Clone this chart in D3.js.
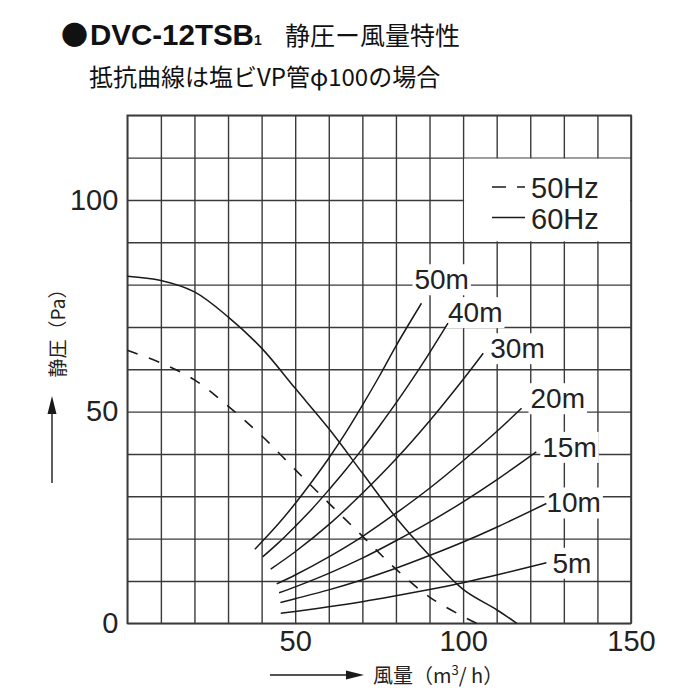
<!DOCTYPE html>
<html><head><meta charset="utf-8">
<script src="https://cdn.jsdelivr.net/npm/d3@7"></script>
<style>
html,body{margin:0;padding:0;background:#fff;}
svg{display:block;}
</style></head><body>
<svg id="chart" width="700" height="700"></svg>
<script>
// ---------- data ----------
const flowTicks = d3.range(0, 151, 10);          // 風量 m3/h grid
const flowTickLabels = [50, 100, 150];
const pressureTicks = d3.range(0, 121, 10);      // 静圧 Pa grid
const pressureTickLabels = [0, 50, 100];

const fan60Hz = [[0,82],[10,81],[20,78.3],[30,72.4],[40,65],[50,55.5],[60,46],[70,35.5],[80,25],[90,16],[100,8],[110,3.2],[116,0]];
const fan50Hz = [[0,64.5],[10,61.5],[20,57.5],[30,51.3],[40,44.3],[50,36.3],[60,28.4],[70,20.6],[80,12.8],[90,6.2],[100,1.6],[104,0]];

const ductLabels = ["50m","40m","30m","20m","15m","10m","5m"];
const duct50m = [[38,17.5],[45,23.5],[50,28.3],[55,33.5],[60,39],[65,45],[70,51.5],[75,58.3],[80,65.5],[87.6,75.6]];
const duct40m = [[40.3,15.7],[45,19],[50,22.9],[55,27],[60,31.5],[65,36.2],[70,41.2],[75,46.5],[80,52],[85,57.8],[90,63.9],[95.5,70.9]];
const duct30m = [[42.7,12.8],[50,16.9],[60,23.3],[70,30.7],[80,38.8],[90,47.8],[100,57.6],[106,63.8]];
const duct20m = [[44.5,9.3],[50,11.4],[60,15.7],[70,20.5],[80,26],[90,31.9],[100,38.4],[110,45.3],[117.4,50.8]];
const duct15m = [[45.2,7.2],[50,8.6],[60,11.8],[70,15.4],[80,19.5],[90,23.9],[100,28.7],[110,33.9],[121.8,40.5]];
const duct10m = [[45.6,4.9],[50,5.8],[60,7.9],[70,10.3],[80,13],[90,16],[100,19.2],[110,22.7],[124.8,28.3]];
const duct5m  = [[45.7,2.4],[50,2.8],[60,3.9],[70,5.1],[80,6.5],[90,8],[100,9.6],[110,11.4],[124.8,14.3]];

const legendLabels = ["50Hz", "60Hz"];
const titleModel = "DVC-12TSB";
const titleSub = "1";
const titleJa = "静圧ー風量特性";
const subtitle = "抵抗曲線は塩ビVP管φ100の場合";
const yAxisTitle = "静圧（Pa）";

// ---------- layout / style ----------
const ducts = [duct50m, duct40m, duct30m, duct20m, duct15m, duct10m, duct5m];
const labelOffsets = [[-7,-24],[0,-11],[7,-5],[9,-10],[6,-5],[0,-1],[6,0]];
const latin = "'Liberation Sans', Arial, Helvetica, sans-serif";
const cjk = "'Noto Sans CJK JP', 'Noto Sans', sans-serif";
const gridColor = "#3a3a3a";
const ink = "#1a1a1a";

const svg = d3.select("#chart");
const x = d3.scaleLinear().domain([0,150]).range([127.3, 631]);
const y = d3.scaleLinear().domain([0,120]).range([623.3, 115.3]);
const W = x(150) - x(0), H = y(0) - y(120);

// ---------- title ----------
svg.append("text").attr("x", 61).attr("y", 45).attr("font-family", cjk)
  .attr("font-size", 27).attr("fill", "#111").text("●");
const t1 = svg.append("text").attr("y", 45).attr("fill", "#111");
t1.append("tspan").attr("x", 90).attr("font-family", latin).attr("font-weight", "bold")
  .attr("font-size", 29.5).text(titleModel);
t1.append("tspan").attr("x", 254).attr("font-family", latin).attr("font-weight", "bold")
  .attr("font-size", 14).text(titleSub);
t1.append("tspan").attr("x", 285).attr("font-family", cjk).attr("font-size", 25).text(titleJa);

svg.append("text").attr("x", 89).attr("y", 86).attr("font-family", cjk)
  .attr("font-size", 24).attr("fill", "#111").text(subtitle);

// ---------- grid via axes ----------
const gx = svg.append("g").attr("transform", `translate(0,${y(0)})`)
  .call(d3.axisBottom(x).tickValues(flowTicks).tickSize(-H).tickPadding(7)
    .tickFormat(d => flowTickLabels.includes(d) ? d : ""));
const gy = svg.append("g").attr("transform", `translate(${x(0)},0)`)
  .call(d3.axisLeft(y).tickValues(pressureTicks).tickSize(-W).tickPadding(9)
    .tickFormat(d => pressureTickLabels.includes(d) ? d : ""));
[gx, gy].forEach(g => {
  g.select(".domain").remove();
  g.attr("font-family", latin).attr("font-size", 29);
  g.selectAll(".tick line").attr("stroke", gridColor).attr("stroke-width", 1.4);
  g.selectAll(".tick text").attr("fill", "#222");
});
svg.append("rect").attr("x", x(0)).attr("y", y(120)).attr("width", W).attr("height", H)
  .attr("fill", "none").attr("stroke", gridColor).attr("stroke-width", 1.6);

// legend white box (inside one grid block)
svg.append("rect").attr("x", x(100) + 1).attr("y", y(110) + 1)
  .attr("width", x(150) - x(100) - 2).attr("height", y(90) - y(110) - 2).attr("fill", "#fff");

// ---------- duct labels (white boxes under, text over) ----------
const rectLayer = svg.append("g");
const curveLayer = svg.append("g");
const textLayer = svg.append("g");

const line = d3.line().x(d => x(d[0])).y(d => y(d[1])).curve(d3.curveCatmullRom.alpha(0.5));

ducts.forEach((pts, i) => {
  const end = pts[pts.length - 1];
  const lx = x(end[0]) + labelOffsets[i][0];
  const ly = y(end[1]) + labelOffsets[i][1];
  const t = textLayer.append("text").attr("x", lx).attr("y", ly + 10)
    .attr("font-family", latin).attr("font-size", 28).attr("fill", "#222").text(ductLabels[i]);
  const bb = t.node().getBBox();
  rectLayer.append("rect").attr("x", bb.x - 2).attr("y", ly - 15)
    .attr("width", bb.width + 4).attr("height", 31).attr("fill", "#fff");
  curveLayer.append("path").attr("d", line(pts)).attr("fill", "none")
    .attr("stroke", ink).attr("stroke-width", 1.5);
});

curveLayer.append("path").attr("d", line(fan60Hz)).attr("fill", "none")
  .attr("stroke", ink).attr("stroke-width", 1.5);
curveLayer.append("path").attr("d", line(fan50Hz)).attr("fill", "none")
  .attr("stroke", ink).attr("stroke-width", 1.6).attr("stroke-dasharray", "11,12");

// ---------- legend ----------
const lg = svg.append("g");
lg.append("line").attr("x1", 492).attr("x2", 525).attr("y1", 187).attr("y2", 187)
  .attr("stroke", ink).attr("stroke-width", 1.6).attr("stroke-dasharray", "14,11");
lg.append("line").attr("x1", 492).attr("x2", 525).attr("y1", 217.5).attr("y2", 217.5)
  .attr("stroke", ink).attr("stroke-width", 1.5);
legendLabels.forEach((s, i) => {
  lg.append("text").attr("x", 531).attr("y", 198 + i * 31).attr("font-family", latin)
    .attr("font-size", 29).attr("fill", "#222").text(s);
});

// ---------- axis titles with arrows ----------
svg.append("line").attr("x1", 52).attr("x2", 52).attr("y1", 483).attr("y2", 410)
  .attr("stroke", ink).attr("stroke-width", 1.4);
svg.append("path").attr("d", "M52,396 L47.5,414 L56.5,414 Z").attr("fill", ink);
svg.append("text").attr("transform", "translate(65,328.5) rotate(-90)")
  .attr("text-anchor", "middle").attr("font-family", cjk).attr("font-size", 19)
  .attr("fill", "#222").text(yAxisTitle);

svg.append("line").attr("x1", 270).attr("x2", 350).attr("y1", 675).attr("y2", 675)
  .attr("stroke", ink).attr("stroke-width", 1.4);
svg.append("path").attr("d", "M364,675 L346,670.5 L346,679.5 Z").attr("fill", ink);
const xt = svg.append("text").attr("x", 373).attr("y", 683).attr("font-family", cjk)
  .attr("font-size", 20).attr("fill", "#222");
xt.append("tspan").text("風量（m");
xt.append("tspan").attr("font-size", 13).attr("dy", -8).text("3");
xt.append("tspan").attr("dy", 8).text("/ h）");
</script>
</body></html>
